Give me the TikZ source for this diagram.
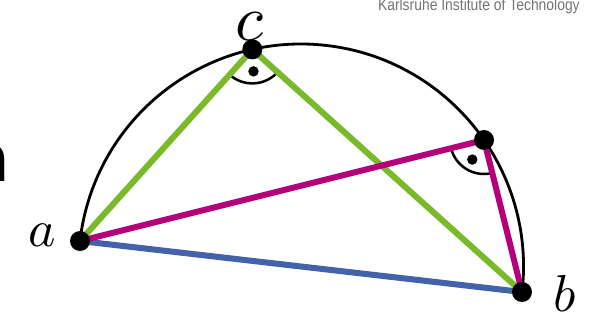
\documentclass[tikz,border=0pt]{standalone}
\usepackage{fontspec}
\newfontfamily\kitfont{Liberation Sans}
\newfontfamily\titlefont{DejaVu Sans}
\usetikzlibrary{calc}
\definecolor{kitgreen}{RGB}{122,185,41}
\definecolor{kitmag}{RGB}{181,0,122}
\definecolor{kitblue}{RGB}{68,98,170}
\begin{document}
\begin{tikzpicture}[
  seg/.style={line width=4.3pt},
  vtx/.style={circle,fill=black,inner sep=0pt,minimum size=0.5cm},
  lbl/.style={inner sep=0pt},
  rmark/.style={line width=1.8pt}
]
\useasboundingbox (0,0) rectangle (14.825,8.075);
\clip (0,0) rectangle (14.825,8.075);
\coordinate (O) at (7.525,1.4125);
\coordinate (a) at (2.0,2.05);
\coordinate (b) at (13.05,0.775);
\path (O) ++(102.64:5.5625) coordinate (c);
\path (O) ++(34.65:5.5625) coordinate (d);
% header text
\node[anchor=base east,inner sep=0pt,text=black!55] (kit) at (14.5,7.8)
  {\scalebox{0.86}[1]{\fontsize{11.5}{12}\kitfont Karlsruhe Institute of Technology}};
\node[anchor=east,inner sep=0pt] (ttl) at (0.25,4.0)
  {\fontsize{48}{48}\titlefont\bfseries a};
% semicircle
\draw[line width=2pt] (a) arc[start angle=173.42,end angle=-6.58,radius=5.5625];
% right angle marks
\draw[rmark] ($(c)+(228.03:0.85)$) arc[start angle=228.03,end angle=318.03,radius=0.85];
\draw[rmark] ($(d)+(194.04:0.85)$) arc[start angle=194.04,end angle=284.02,radius=0.85];
\fill ($(c)+(273.03:0.55)$) circle (0.13);
\fill ($(d)+(239.03:0.57)$) circle (0.13);
% segments
\draw[seg,kitblue] (a) -- (b);
\draw[seg,kitgreen] (a) -- (c) -- (b);
\draw[seg,kitmag] (a) -- (d) -- (b);
% vertices
\node[vtx] (va) at (a) {};
\node[vtx] (vb) at (b) {};
\node[vtx] (vc) at (c) {};
\node[vtx] (vd) at (d) {};
% labels
\node[lbl] (la) at (1.05,2.2) {\scalebox{3.7}{$a$}};
\node[lbl] (lb) at (14.12,0.75) {\scalebox{3.7}{$b$}};
\node[lbl] (lc) at (6.225,7.4) {\scalebox{4.6}{$c$}};
\end{tikzpicture}
\end{document}
